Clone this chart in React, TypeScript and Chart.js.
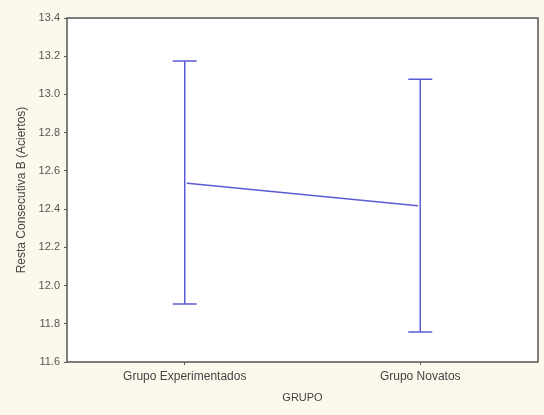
import React, { useEffect, useRef } from "react";
import { Chart, registerables } from "chart.js";

Chart.register(...registerables);

const categories = ["Grupo Experimentados", "Grupo Novatos"];
const means = [12.537, 12.416];
const upper = [13.175, 13.08];
const lower = [11.903, 11.757];
const yMin = 11.6;
const yMax = 13.4;
const yStep = 0.2;

const LINE = "#5b5bd6";
const FONT = "'Liberation Sans', Arial, sans-serif";

const framePlugin = {
  id: "frame",
  beforeDraw(chart: any) {
    const { ctx, chartArea: a } = chart;
    ctx.save();
    ctx.fillStyle = "#ffffff";
    ctx.fillRect(a.left, a.top, a.right - a.left, a.bottom - a.top);
    ctx.restore();
  },
  afterDatasetsDraw(chart: any) {
    const { ctx, chartArea: a, scales } = chart;
    const xs = scales.x;
    const ys = scales.y;
    ctx.save();
    ctx.strokeStyle = LINE;
    ctx.lineWidth = 1.5;
    for (let i = 0; i < categories.length; i++) {
      const x = xs.getPixelForValue(i);
      const yT = ys.getPixelForValue(upper[i]);
      const yB = ys.getPixelForValue(lower[i]);
      ctx.beginPath();
      ctx.moveTo(x, yT);
      ctx.lineTo(x, yB);
      ctx.moveTo(x - 12, yT);
      ctx.lineTo(x + 12, yT);
      ctx.moveTo(x - 12, yB);
      ctx.lineTo(x + 12, yB);
      ctx.stroke();
    }
    ctx.restore();
    ctx.save();
    ctx.strokeStyle = "#555555";
    ctx.lineWidth = 1.5;
    ctx.strokeRect(a.left, a.top, a.right - a.left, a.bottom - a.top);
    ctx.restore();
  },
};

export default function App() {
  const ref = useRef<HTMLCanvasElement>(null);
  useEffect(() => {
    if (!ref.current) return;
    const chart = new Chart(ref.current, {
      type: "line",
      data: {
        labels: categories,
        datasets: [
          {
            data: means,
            borderColor: LINE,
            borderWidth: 1.5,
            pointRadius: 1.5,
            pointBackgroundColor: "#ffffff",
            pointBorderColor: "#ffffff",
            tension: 0,
          },
        ],
      },
      options: {
        animation: false,
        responsive: false,
        layout: { padding: { left: 14, right: 6, top: 18, bottom: 10 } },
        plugins: { legend: { display: false }, tooltip: { enabled: false } },
        scales: {
          x: {
            offset: true,
            border: { display: false },
            grid: { drawOnChartArea: false, drawTicks: true, tickLength: 3, color: "#555" },
            ticks: { color: "#444", font: { family: FONT, size: 12 }, padding: 4 },
            title: {
              display: true,
              text: "GRUPO",
              color: "#444",
              font: { family: FONT, size: 11 },
              padding: { top: 6, bottom: 0 },
            },
            afterFit(s: any) {
              s.height = 43;
            },
          },
          y: {
            min: yMin,
            max: yMax,
            border: { display: false },
            grid: { drawOnChartArea: false, drawTicks: true, tickLength: 3, color: "#555" },
            ticks: {
              stepSize: yStep,
              color: "#555",
              font: { family: FONT, size: 11 },
              padding: 4,
              callback: (v: any) => Number(v).toFixed(1),
            },
            title: {
              display: true,
              text: "Resta Consecutiva B (Aciertos)",
              color: "#444",
              font: { family: FONT, size: 12 },
              padding: { top: 0, bottom: 4 },
            },
            afterFit(s: any) {
              s.width = 53;
            },
          },
        },
      },
      plugins: [framePlugin],
    });
    return () => chart.destroy();
  }, []);
  return (
    <div
      style={{
        position: "fixed",
        left: 0,
        top: 0,
        width: 544,
        height: 415,
        background: "#fcf9ec",
      }}
    >
      <canvas ref={ref} width={544} height={415} style={{ display: "block" }} />
    </div>
  );
}
